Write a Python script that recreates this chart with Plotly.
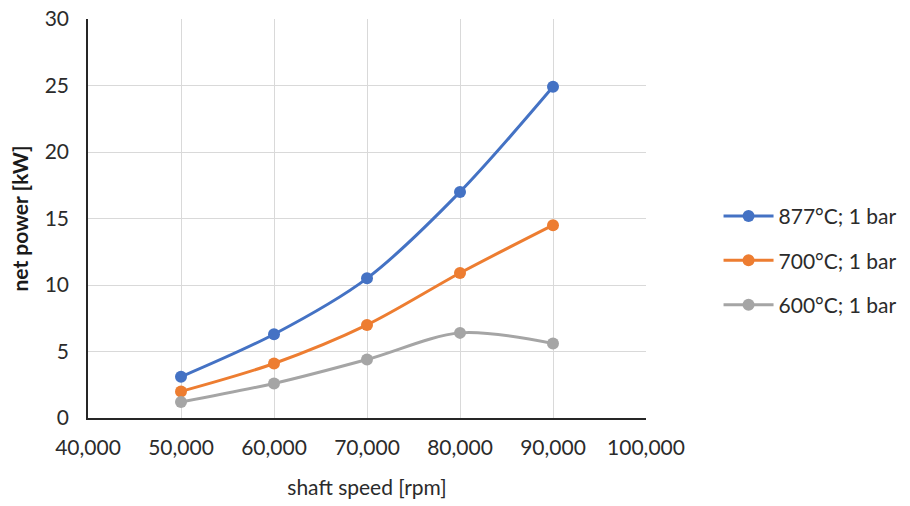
import plotly.graph_objects as go

# Shaft speed (rpm) and net power (kW) for three turbine inlet temperatures
shaft_speed = [50000, 60000, 70000, 80000, 90000]
power_877 = [3.1, 6.3, 10.5, 17.0, 24.9]
power_700 = [2.0, 4.1, 7.0, 10.9, 14.5]
power_600 = [1.2, 2.6, 4.4, 6.4, 5.6]

series_names = ["877°C; 1 bar", "700°C; 1 bar", "600°C; 1 bar"]
series_values = [power_877, power_700, power_600]
series_colors = ["#4472C4", "#ED7D31", "#A5A5A5"]

FONT = "Lato"
TEXT = "#2b2b2b"

fig = go.Figure()
for name, vals, col in zip(series_names, series_values, series_colors):
    fig.add_trace(go.Scatter(
        x=shaft_speed, y=vals, name=name, legendgroup=name,
        mode="lines+markers",
        line=dict(color=col, width=3, shape="spline", smoothing=0.9),
        marker=dict(color=col, size=12, symbol="circle"),
    ))

fig.update_layout(
    width=910, height=506,
    margin=dict(l=88, r=264, t=19, b=88, autoexpand=False),
    paper_bgcolor="white", plot_bgcolor="white",
    font=dict(family=FONT, size=21, color=TEXT),
    showlegend=True,
    legend=dict(
        x=1.13, y=0.395, xanchor="left", yanchor="middle",
        font=dict(family=FONT, size=21, color=TEXT),
        tracegroupgap=14, traceorder="grouped", itemwidth=50,
        bgcolor="rgba(0,0,0,0)",
    ),
)

fig.update_xaxes(
    range=[40000, 100000], dtick=10000, tick0=40000,
    tickformat=",", showgrid=True, gridcolor="#D9D9D9", gridwidth=1,
    showline=True, linecolor="#262626", linewidth=1.5,
    zeroline=False, ticks="", ticklabelstandoff=10, automargin=False,
    tickfont=dict(family=FONT, size=21, color=TEXT),
    title=dict(text="shaft speed [rpm]", standoff=22,
               font=dict(family=FONT, size=21, color=TEXT)),
)
fig.update_yaxes(
    range=[0, 30], dtick=5, tick0=0,
    showgrid=True, gridcolor="#D9D9D9", gridwidth=1,
    showline=True, linecolor="#262626", linewidth=1.5,
    zeroline=False, ticks="", ticklabelstandoff=13, automargin=False,
    tickfont=dict(family=FONT, size=21, color=TEXT),
    title=dict(text="<b>net power [kW]</b>", standoff=10,
               font=dict(family=FONT, size=21, color="#1a1a1a")),
)

fig.write_html("out.html")
